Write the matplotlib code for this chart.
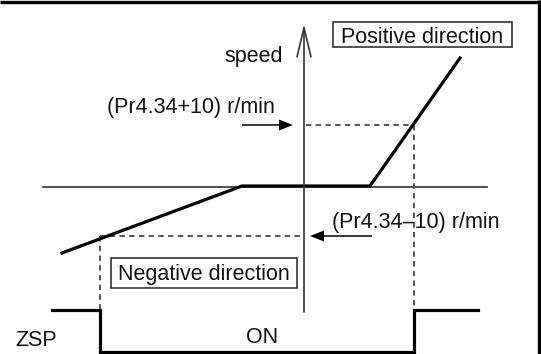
import matplotlib.pyplot as plt
from matplotlib.patches import Rectangle

plt.rcParams['font.family'] = ['Liberation Sans', 'DejaVu Sans']

# diagram values, in pixel units of the 541x354 picture (y grows downward)
speed_t = [62, 242, 370, 460]
speed_v = [253, 186, 186, 58]

zsp_t = [52, 100, 100, 414, 414, 478]
zsp_v = [310, 310, 352, 352, 310, 310]

zero_y = 187
zero_span = [43, 487]

axis_x = 304
axis_span = [312, 24]

pos_level = 125          # (Pr4.34+10) r/min
neg_level = 236          # (Pr4.34-10) r/min
pos_cross = 414          # time where speed passes pos_level
neg_cross = 100          # time where speed passes neg_level

labels = {
    'speed': 'speed',
    'pos': 'Positive direction',
    'neg': 'Negative direction',
    'pos_lvl': '(Pr4.34+10) r/min',
    'neg_lvl': '(Pr4.34\u201310) r/min',
    'zsp': 'ZSP',
    'on': 'ON',
}

fig = plt.figure(figsize=(5.41, 3.54), dpi=100)
ax = fig.add_axes([0, 0, 1, 1])
ax.set_xlim(0, 541)
ax.set_ylim(354, 0)
ax.axis('off')

FS = 15.5
TXT = '#111111'
DASH = dict(color='#555555', lw=1.4, ls=(0, (2.8, 2.2)))

# frame (top and right only)
ax.plot([0, 538.5], [1.5, 1.5], color='black', lw=2.4, solid_capstyle='butt')
ax.plot([538.5, 538.5], [0, 354], color='black', lw=2.4, solid_capstyle='butt')

# zero speed line
ax.plot(zero_span, [zero_y, zero_y], color='#333333', lw=1.2)

# speed axis with open arrowhead
ax.annotate('', xy=(axis_x, axis_span[1]), xytext=(axis_x, axis_span[0]),
            arrowprops=dict(arrowstyle='->,head_length=0.42,head_width=0.1',
                            mutation_scale=50, color='#333333', lw=1.2,
                            shrinkA=0, shrinkB=0))
ax.text(283, 62, labels['speed'], fontsize=FS, color=TXT, ha='right', va='baseline')

# dashed guides
ax.plot([axis_x + 2, pos_cross], [pos_level, pos_level], **DASH)
ax.plot([pos_cross, pos_cross], [pos_level, zsp_v[-1]], **DASH)
ax.plot([neg_cross, axis_x - 4], [neg_level, neg_level], **DASH)
ax.plot([neg_cross, neg_cross], [neg_level, zsp_v[0]], **DASH)

# speed curve
ax.plot(speed_t, speed_v, color='black', lw=2.3, solid_joinstyle='miter')

# level arrows
ax.arrow(242, pos_level, axis_x - 11 - 242, 0, width=1.5, head_width=11,
         head_length=14, length_includes_head=True, color='black', lw=0)
ax.arrow(372, neg_level, axis_x + 6 - 372, 0, width=1.5, head_width=11,
         head_length=14, length_includes_head=True, color='black', lw=0)
ax.text(275, 113, labels['pos_lvl'], fontsize=FS, color=TXT, ha='right', va='baseline')
ax.text(332, 228, labels['neg_lvl'], fontsize=FS, color=TXT, ha='left', va='baseline')

# direction boxes
ax.add_patch(Rectangle((333, 22), 179, 25, fill=False, ec='#333333', lw=1.2))
ax.text(422, 43, labels['pos'], fontsize=FS, color=TXT, ha='center', va='baseline')
ax.add_patch(Rectangle((111, 258), 186, 30, fill=False, ec='#333333', lw=1.2))
ax.text(204, 280, labels['neg'], fontsize=FS, color=TXT, ha='center', va='baseline')

# ZSP signal
ax.plot(zsp_t, zsp_v, color='black', lw=2.3, solid_joinstyle='miter')
ax.text(15, 346, labels['zsp'], fontsize=FS, color=TXT, ha='left', va='baseline')
ax.text(262, 343, labels['on'], fontsize=FS, color=TXT, ha='center', va='baseline')

fig.savefig('out.png', dpi=100)
